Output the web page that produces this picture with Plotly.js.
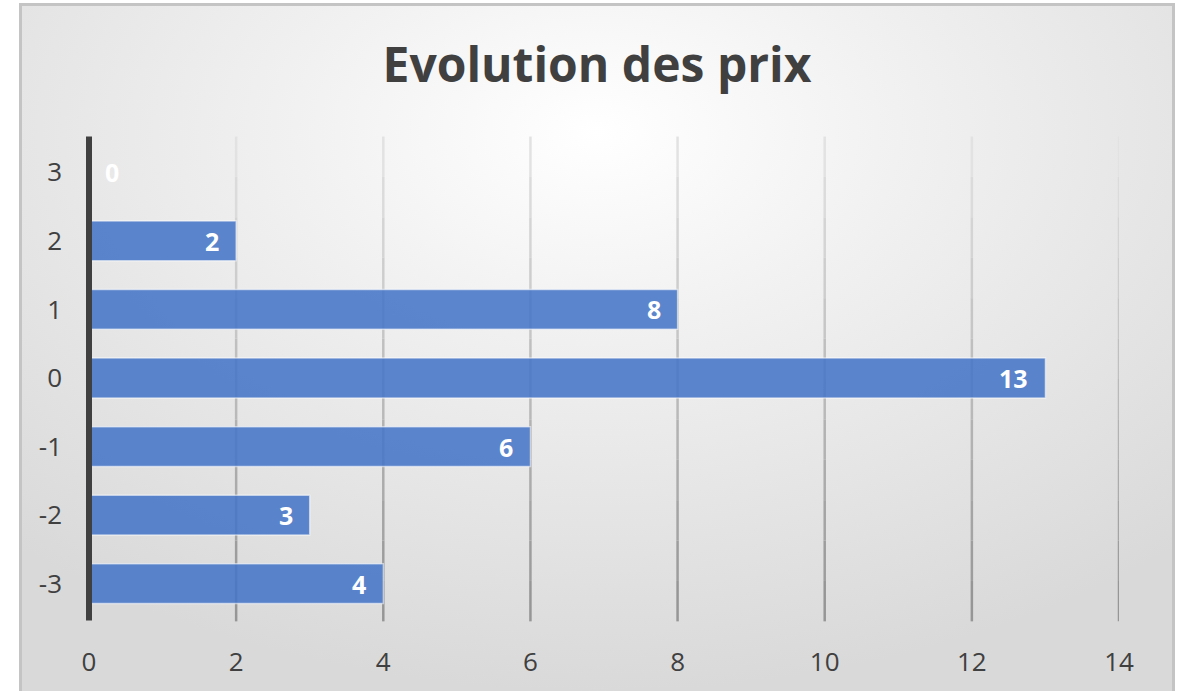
<!DOCTYPE html>
<html><head><meta charset="utf-8">
<script src="https://cdn.plot.ly/plotly-3.0.1.min.js"></script>
<style>
html,body{margin:0;padding:0;background:#fff;width:1178px;height:691px;overflow:hidden;}
#frame{position:absolute;left:19px;top:3px;width:1150px;height:700px;border:3px solid #c4c4c4;
background:radial-gradient(ellipse 75% 80% at 50% 18%, #ffffff 0%, #f1f1f1 35%, #e4e4e4 70%, #d9d9d9 100%);}
#chart{width:1150px;height:700px;}
</style></head>
<body>
<div id="frame"><div id="chart"></div></div>
<script>
const categories = [-3, -2, -1, 0, 1, 2, 3];
const values = [4, 3, 6, 13, 8, 2, 0];
const xTicks = [0, 2, 4, 6, 8, 10, 12, 14];
const chartTitle = "Evolution des prix";

const shapes = [];
const nSeg = 12;
function lerp(a,b,t){return Math.round(a+(b-a)*t);}
xTicks.filter(v => v !== 0).forEach(v => {
  for (let s = 0; s < nSeg; s++) {
    const t = s/(nSeg-1);
    const c = lerp(226, 150, t);
    shapes.push({type:'line', layer:'below', xref:'x', yref:'paper', x0:v, x1:v,
      y0: 1.003 - (s/nSeg)*1.01, y1: 1.003 - ((s+1)/nSeg)*1.01,
      line:{color:`rgb(${c},${c},${c})`, width:2.5}});
  }
});

const annotations = categories.map((c,i) => ({
  x: values[i], y: c, xref:'x', yref:'y', text: String(values[i]), showarrow:false,
  xanchor: values[i] === 0 ? 'left' : 'right', xshift: values[i] === 0 ? 14 : -15,
  font:{family:'Open Sans', size:25, color:'#ffffff', weight:700}
}));

const trace = {
  type:'bar', orientation:'h', y: categories, x: values,
  marker:{color:'rgba(70,117,198,0.88)', line:{color:'rgba(255,255,255,0.55)', width:1.5}},
  hoverinfo:'none'
};

const layout = {
  width:1150, height:700,
  paper_bgcolor:'rgba(0,0,0,0)', plot_bgcolor:'rgba(0,0,0,0)',
  margin:{l:67, r:53, t:132, b:88},
  bargap:0.42,
  showlegend:false,
  title:{text:chartTitle, x:0.5, xref:'container', y:0.916, yref:'container', yanchor:'middle',
    font:{family:'Open Sans', size:48, color:'#404040', weight:700}},
  xaxis:{range:[0,14], tickvals:xTicks, ticktext:xTicks.map(String), showgrid:false,
    zeroline:false, showline:false, ticks:'', ticklabelstandoff:26,
    tickfont:{family:'Open Sans', size:26, color:'#404040'}},
  yaxis:{range:[-3.5,3.5], tickvals:categories, ticktext:categories.map(String), showgrid:false,
    zeroline:false, showline:false, ticks:'', ticklabelstandoff:26,
    tickfont:{family:'Open Sans', size:26, color:'#404040'}},
  shapes: shapes.concat([{type:'line', layer:'above', xref:'paper', yref:'paper', x0:0, x1:0, y0:-0.005, y1:1.003,
    line:{color:'#404040', width:6}}]),
  annotations: annotations
};
Plotly.newPlot('chart', [trace], layout, {displayModeBar:false, staticPlot:true});
</script>
</body></html>
